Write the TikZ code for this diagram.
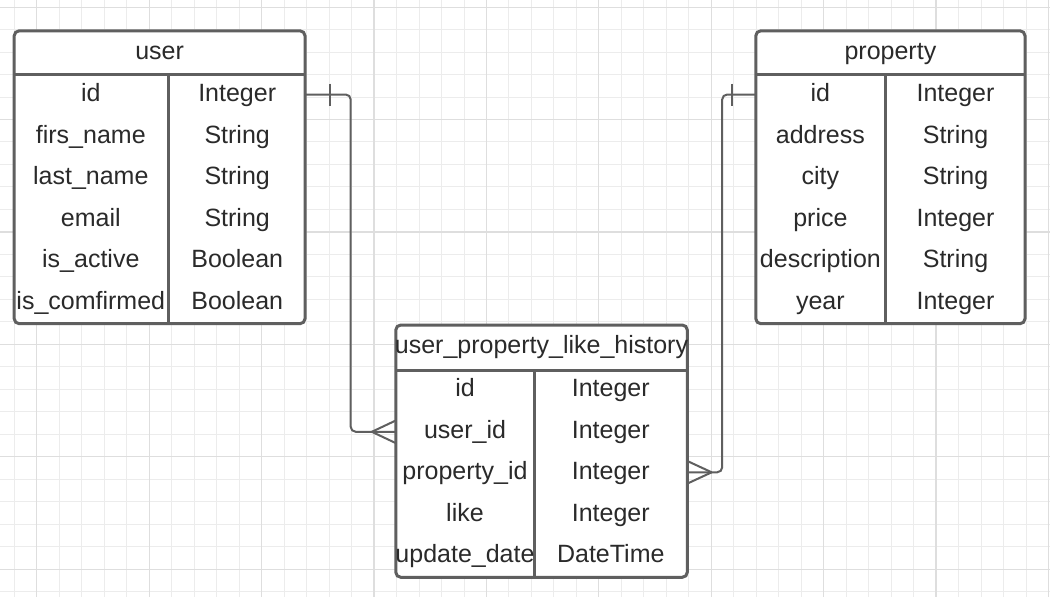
\documentclass[tikz,border=0pt]{standalone}
\usepackage{fontspec}
\setmainfont{Liberation Sans}
\usetikzlibrary{calc}
\definecolor{gridminor}{HTML}{ECECEC}
\definecolor{gridmajor}{HTML}{DEDEDE}
\definecolor{edge}{HTML}{5F5F5F}
\definecolor{ink}{HTML}{2A2A2A}
\begin{document}
\begin{tikzpicture}[x=1pt,y=-1pt,
  every node/.style={inner sep=0pt, outer sep=0pt},
  txt/.style={anchor=base, text=ink, font=\fontsize{25}{30}\selectfont},
  tablebox/.style={draw=edge, line width=3pt, fill=white, rounded corners=5pt, rectangle, anchor=north west},
  rulel/.style={draw=edge, line width=3pt},
  conn/.style={draw=edge, line width=2pt, rounded corners=5pt},
  notation/.style={draw=edge, line width=2pt},
  minorline/.style={draw=gridminor, line width=1pt},
  majorline/.style={draw=gridmajor, line width=1.2pt}
]
\useasboundingbox (0,0) rectangle (1050,597);
\fill[white] (0,0) rectangle (1050,597);
% grid
\foreach \k in {0,...,46} \draw[minorline] ({14.4+22.48*\k},0) -- ({14.4+22.48*\k},597);
\foreach \k in {0,...,26} \draw[minorline] (0,{7.1+22.48*\k}) -- (1050,{7.1+22.48*\k});
\foreach \k in {0,...,9} \draw[majorline] ({36.88+112.4*\k},0) -- ({36.88+112.4*\k},597);
\foreach \k in {0,...,5} \draw[majorline] (0,{7.1+112.4*\k}) -- (1050,{7.1+112.4*\k});

% ---------- user table ----------
\node[tablebox, minimum width=290.8pt, minimum height=292.9pt] (user) at (14.2,30.8) {};
\draw[rulel] (14.2,74.8) -- (305,74.8);
\draw[rulel] (168.3,74.8) -- (168.3,323.7);
\node[txt] (user-title) at (159.6,59.2) {user};
\foreach \n/\t [count=\i from 0] in {id/Integer, firs\_name/String, last\_name/String, email/String, is\_active/Boolean, is\_comfirmed/Boolean}{
  \node[txt] (user-n\i) at (90.8,{74.8+41.5*(\i+0.5)+6}) {\n};
  \node[txt] (user-t\i) at (237.2,{74.8+41.5*(\i+0.5)+6}) {\t};
}

% ---------- property table ----------
\node[tablebox, minimum width=269.2pt, minimum height=292.9pt] (property) at (755.8,30.8) {};
\draw[rulel] (755.8,74.8) -- (1025,74.8);
\draw[rulel] (885,74.8) -- (885,323.7);
\node[txt] (property-title) at (890.4,59.2) {property};
\foreach \n/\t [count=\i from 0] in {id/Integer, address/String, city/String, price/Integer, description/String, year/Integer}{
  \node[txt] (property-n\i) at (820.4,{74.8+41.5*(\i+0.5)+6}) {\n};
  \node[txt] (property-t\i) at (955.5,{74.8+41.5*(\i+0.5)+6}) {\t};
}

% ---------- history table ----------
\node[tablebox, minimum width=291.5pt, minimum height=252.3pt] (history) at (395.8,325) {};
\draw[rulel] (395.8,370) -- (687.3,370);
\draw[rulel] (534.3,370) -- (534.3,577.3);
\node[txt] (history-title) at (541.5,353.6) {user\_property\_like\_history};
\foreach \n/\t [count=\i from 0] in {id/Integer, user\_id/Integer, property\_id/Integer, like/Integer, update\_date/DateTime}{
  \node[txt] (history-n\i) at (465,{370+41.46*(\i+0.5)+6}) {\n};
  \node[txt] (history-t\i) at (610.8,{370+41.46*(\i+0.5)+6}) {\t};
}

% ---------- ports ----------
\coordinate (uport) at (305,94.5);
\coordinate (hport1) at (395.8,431.8);
\coordinate (pport) at (755.8,94.5);
\coordinate (hport2) at (687.3,472.3);

% connector user.id -> history.user_id
\draw[conn] (uport) -- ++(45.7,0) |- (hport1);
\draw[notation] ($(uport)+(25.2,-11)$) -- ($(uport)+(25.2,11)$);
\draw[notation] ($(hport1)+(-24,0)$) -- ($(hport1)+(0,-11.3)$);
\draw[notation] ($(hport1)+(-24,0)$) -- ($(hport1)+(0,11.3)$);

% connector property.id -> history.property_id
\draw[conn] (pport) -- ++(-33.6,0) |- (hport2);
\draw[notation] ($(pport)+(-24,-11)$) -- ($(pport)+(-24,11)$);
\draw[notation] ($(hport2)+(24.4,0)$) -- ($(hport2)+(0,-11.3)$);
\draw[notation] ($(hport2)+(24.4,0)$) -- ($(hport2)+(0,11.3)$);
\end{tikzpicture}
\end{document}
